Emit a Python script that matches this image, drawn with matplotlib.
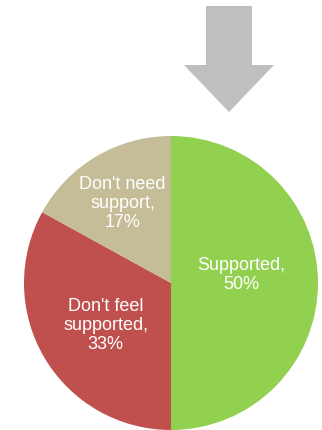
import numpy as np
import matplotlib
matplotlib.use("Agg")
import matplotlib.pyplot as plt
from matplotlib.patches import Polygon

plt.rcParams['font.family'] = ['Liberation Sans', 'DejaVu Sans']

labels = ["Supported", "Don't feel\nsupported", "Don't need\nsupport"]
shares = [50, 33, 17]
colors = ["#92D050", "#C0504D", "#C4BD97"]
# label placement: radial distance and angular nudge (degrees) from wedge middle
label_dist = [0.48, 0.53, 0.634]
label_nudge = [6.4, 2.4, 0.8]

W, H = 322, 430
fig = plt.figure(figsize=(W / 100, H / 100), dpi=100)
fig.patch.set_facecolor("white")

# pie axes: centre at (171, 283) px, radius 147 px
cx, cy, r = 171, 283, 147
ax = fig.add_axes([(cx - r) / W, (H - cy - r) / H, 2 * r / W, 2 * r / H])
wedges, _ = ax.pie(shares, colors=colors, startangle=90, counterclock=False,
                   radius=1.0, wedgeprops=dict(linewidth=0))
ax.set_xlim(-1, 1)
ax.set_ylim(-1, 1)
ax.set_aspect("equal")
ax.axis("off")

for w, lab, val, d, nd in zip(wedges, labels, shares, label_dist, label_nudge):
    mid = np.deg2rad((w.theta1 + w.theta2) / 2 + nd)
    ax.text(d * np.cos(mid), d * np.sin(mid), f"{lab},\n{val}%",
            ha="center", va="center", color="white", fontsize=13,
            linespacing=1.17)

# downward arrow above the pie
oax = fig.add_axes([0, 0, 1, 1])
oax.set_xlim(0, W)
oax.set_ylim(H, 0)
oax.axis("off")
arrow = Polygon([(206, 6), (252, 6), (252, 65), (274, 65), (229, 112),
                 (184, 65), (206, 65)], closed=True, facecolor="#BFBFBF",
                edgecolor="none")
oax.add_patch(arrow)

fig.savefig("out.png", dpi=100)
